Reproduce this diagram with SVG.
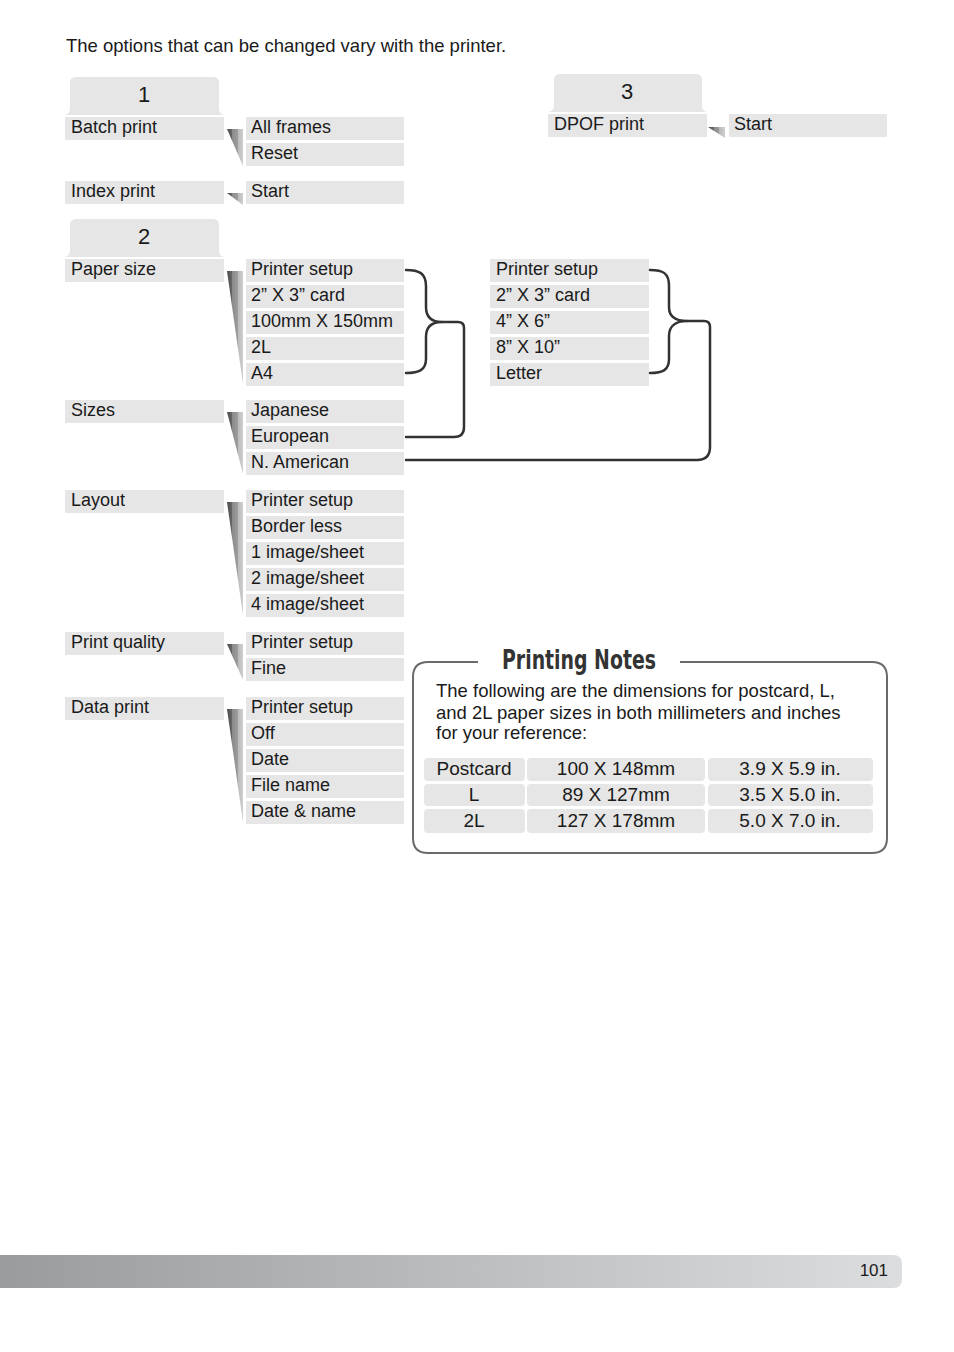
<svg xmlns="http://www.w3.org/2000/svg" width="954" height="1352" viewBox="0 0 954 1352">
<defs>
<linearGradient id="wg" x1="0" y1="0" x2="1" y2="0">
<stop offset="0" stop-color="#4a4a4a"/><stop offset="0.33" stop-color="#6a6a6a"/>
<stop offset="0.33" stop-color="#8a8a8a"/><stop offset="0.66" stop-color="#9c9c9c"/>
<stop offset="0.66" stop-color="#b8b8b8"/><stop offset="1" stop-color="#cfcfcf"/>
</linearGradient>
<linearGradient id="fg" x1="0" y1="0" x2="1" y2="0">
<stop offset="0" stop-color="#9a9b9d"/><stop offset="1" stop-color="#dcdddf"/>
</linearGradient>
<style>
text{font-family:"Liberation Sans",Arial,sans-serif;fill:#1a1a1a}
.r{fill:#e6e6e6}
.t{font-size:18px}
.h{font-size:18.5px}
.n{font-size:22px;text-anchor:middle}
.c{text-anchor:middle;font-size:19px}
.w{fill:url(#wg)}
.ln{fill:none;stroke:#333;stroke-width:2.5;stroke-linecap:round;stroke-linejoin:round}
</style>
</defs>
<rect width="954" height="1352" fill="#fff"/>
<text class="h" x="66" y="52">The options that can be changed vary with the printer.</text>

<g id="tab1">
<path class="r" d="M65,115 Q70,114 70,108 L70,83 Q70,77 76,77 L213,77 Q219,77 219,83 L219,108 Q219,114 224,115 Z"/>
<text class="n" x="144" y="102">1</text>
</g>
<g id="tab2">
<path class="r" d="M65,257 Q70,256 70,250 L70,225 Q70,219 76,219 L213,219 Q219,219 219,225 L219,250 Q219,256 224,257 Z"/>
<text class="n" x="144" y="244">2</text>
</g>
<g id="tab3">
<path class="r" d="M548,112 Q554,111 554,105 L554,80 Q554,74 560,74 L696,74 Q702,74 702,80 L702,105 Q702,111 707,112 Z"/>
<text class="n" x="627" y="99">3</text>
</g>

<g id="batch">
<rect class="r" x="65" y="117" width="159" height="23"/><text class="t" x="71" y="133">Batch print</text>
<polygon class="w" points="227,129 243,129 243,166"/>
<rect class="r" x="246" y="117" width="158" height="23"/><text class="t" x="251" y="133">All frames</text>
<rect class="r" x="246" y="143" width="158" height="23"/><text class="t" x="251" y="159">Reset</text>
</g>
<g id="index">
<rect class="r" x="65" y="181" width="159" height="23"/><text class="t" x="71" y="197">Index print</text>
<polygon class="w" points="227,193 243,193 243,205"/>
<rect class="r" x="246" y="181" width="158" height="23"/><text class="t" x="251" y="197">Start</text>
</g>
<g id="dpof">
<rect class="r" x="548" y="114" width="159" height="23"/><text class="t" x="554" y="130">DPOF print</text>
<polygon class="w" points="708,127 725,127 725,138"/>
<rect class="r" x="729" y="114" width="158" height="23"/><text class="t" x="734" y="130">Start</text>
</g>

<g id="papersize">
<rect class="r" x="65" y="259" width="159" height="23"/><text class="t" x="71" y="275">Paper size</text>
<polygon class="w" points="227,271 243,271 243,384"/>
<rect class="r" x="246" y="259" width="158" height="23"/><text class="t" x="251" y="275">Printer setup</text>
<rect class="r" x="246" y="285" width="158" height="23"/><text class="t" x="251" y="301">2” X 3” card</text>
<rect class="r" x="246" y="311" width="158" height="23"/><text class="t" x="251" y="327">100mm X 150mm</text>
<rect class="r" x="246" y="337" width="158" height="23"/><text class="t" x="251" y="353">2L</text>
<rect class="r" x="246" y="363" width="158" height="23"/><text class="t" x="251" y="379">A4</text>
</g>
<g id="papersize2">
<rect class="r" x="490" y="259" width="159" height="23"/><text class="t" x="496" y="275">Printer setup</text>
<rect class="r" x="490" y="285" width="159" height="23"/><text class="t" x="496" y="301">2” X 3” card</text>
<rect class="r" x="490" y="311" width="159" height="23"/><text class="t" x="496" y="327">4” X 6”</text>
<rect class="r" x="490" y="337" width="159" height="23"/><text class="t" x="496" y="353">8” X 10”</text>
<rect class="r" x="490" y="363" width="159" height="23"/><text class="t" x="496" y="379">Letter</text>
</g>
<g id="sizes">
<rect class="r" x="65" y="400" width="159" height="23"/><text class="t" x="71" y="416">Sizes</text>
<polygon class="w" points="227,412 243,412 243,474"/>
<rect class="r" x="246" y="400" width="158" height="23"/><text class="t" x="251" y="416">Japanese</text>
<rect class="r" x="246" y="426" width="158" height="23"/><text class="t" x="251" y="442">European</text>
<rect class="r" x="246" y="452" width="158" height="23"/><text class="t" x="251" y="468">N. American</text>
</g>
<g id="layout">
<rect class="r" x="65" y="490" width="159" height="23"/><text class="t" x="71" y="506">Layout</text>
<polygon class="w" points="227,502 243,502 243,615"/>
<rect class="r" x="246" y="490" width="158" height="23"/><text class="t" x="251" y="506">Printer setup</text>
<rect class="r" x="246" y="516" width="158" height="23"/><text class="t" x="251" y="532">Border less</text>
<rect class="r" x="246" y="542" width="158" height="23"/><text class="t" x="251" y="558">1 image/sheet</text>
<rect class="r" x="246" y="568" width="158" height="23"/><text class="t" x="251" y="584">2 image/sheet</text>
<rect class="r" x="246" y="594" width="158" height="23"/><text class="t" x="251" y="610">4 image/sheet</text>
</g>
<g id="quality">
<rect class="r" x="65" y="632" width="159" height="23"/><text class="t" x="71" y="648">Print quality</text>
<polygon class="w" points="227,644 243,644 243,680"/>
<rect class="r" x="246" y="632" width="158" height="23"/><text class="t" x="251" y="648">Printer setup</text>
<rect class="r" x="246" y="658" width="158" height="23"/><text class="t" x="251" y="674">Fine</text>
</g>
<g id="dataprint">
<rect class="r" x="65" y="697" width="159" height="23"/><text class="t" x="71" y="713">Data print</text>
<polygon class="w" points="227,709 243,709 243,822"/>
<rect class="r" x="246" y="697" width="158" height="23"/><text class="t" x="251" y="713">Printer setup</text>
<rect class="r" x="246" y="723" width="158" height="23"/><text class="t" x="251" y="739">Off</text>
<rect class="r" x="246" y="749" width="158" height="23"/><text class="t" x="251" y="765">Date</text>
<rect class="r" x="246" y="775" width="158" height="23"/><text class="t" x="251" y="791">File name</text>
<rect class="r" x="246" y="801" width="158" height="23"/><text class="t" x="251" y="817">Date &amp; name</text>
</g>

<g id="connectors">
<path class="ln" d="M406,270 C419,270 426,273 426,286 L426,307 C426,317 432,322 442,322 C432,322 426,327 426,337 L426,359 C426,370 419,373 406,373"/>
<path class="ln" d="M442,322 L458,322 Q464,322 464,328 L464,427 Q464,437 454,437 L406,437"/>
<path class="ln" d="M650,270 C663,270 669,273 669,286 L669,307 C669,317 676,321 687,321 C676,321 669,326 669,336 L669,359 C669,370 663,373 650,373"/>
<path class="ln" d="M687,321 L704,321 Q710,321 710,327 L710,447 Q710,460 697,460 L406,460"/>
</g>

<g id="notes">
<path d="M478,662 L428,662 Q413,662 413,677 L413,838 Q413,853 428,853 L872,853 Q887,853 887,838 L887,677 Q887,662 872,662 L680,662" fill="none" stroke="#6a6a6a" stroke-width="2"/>
<text x="579" y="669" text-anchor="middle" font-size="27" font-weight="bold" textLength="154" lengthAdjust="spacingAndGlyphs" style="font-family:'Liberation Sans Narrow','DejaVu Sans Condensed','Liberation Sans',sans-serif;fill:#333">Printing Notes</text>
<text class="h" x="436" y="697">The following are the dimensions for postcard, L,</text>
<text class="h" x="436" y="719">and 2L paper sizes in both millimeters and inches</text>
<text class="h" x="436" y="739">for your reference:</text>
<rect class="r" x="424" y="758" width="101" height="23" rx="4"/>
<rect class="r" x="527" y="758" width="178" height="23" rx="4"/>
<rect class="r" x="708" y="758" width="165" height="23" rx="4"/>
<rect class="r" x="424" y="784" width="101" height="22" rx="4"/>
<rect class="r" x="527" y="784" width="178" height="22" rx="4"/>
<rect class="r" x="708" y="784" width="165" height="22" rx="4"/>
<rect class="r" x="424" y="809" width="101" height="24" rx="4"/>
<rect class="r" x="527" y="809" width="178" height="24" rx="4"/>
<rect class="r" x="708" y="809" width="165" height="24" rx="4"/>
<text class="c" x="474" y="775">Postcard</text>
<text class="c" x="616" y="775">100 X 148mm</text>
<text class="c" x="790" y="775">3.9 X 5.9 in.</text>
<text class="c" x="474" y="801">L</text>
<text class="c" x="616" y="801">89 X 127mm</text>
<text class="c" x="790" y="801">3.5 X 5.0 in.</text>
<text class="c" x="474" y="827">2L</text>
<text class="c" x="616" y="827">127 X 178mm</text>
<text class="c" x="790" y="827">5.0 X 7.0 in.</text>
</g>

<g id="footer">
<path d="M0,1255 L893,1255 Q902,1255 902,1264 L902,1279 Q902,1288 893,1288 L0,1288 Z" fill="url(#fg)"/>
<text x="888" y="1276" text-anchor="end" font-size="17">101</text>
</g>
</svg>
